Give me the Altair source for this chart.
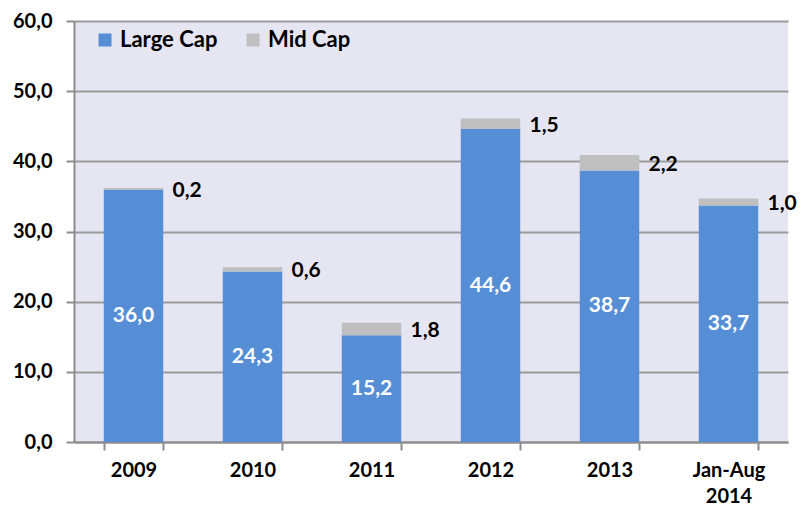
import altair as alt
import pandas as pd

years = ["2009", "2010", "2011", "2012", "2013", "Jan-Aug 2014"]
large_cap = [36.0, 24.3, 15.2, 44.6, 38.7, 33.7]
mid_cap = [0.2, 0.6, 1.8, 1.5, 2.2, 1.0]
series = ["Large Cap", "Mid Cap"]
colors = ["#558ED5", "#BFBFBF"]

rows = []
for y, l, m in zip(years, large_cap, mid_cap):
    rows.append({"year": y, "series": "Large Cap", "value": l, "large": l, "mid": m})
    rows.append({"year": y, "series": "Mid Cap", "value": m, "large": l, "mid": m})
df = pd.DataFrame(rows)

FONT = "Lato"
W = "bold"

x = alt.X(
    "year:N",
    sort=years,
    title=None,
    scale=alt.Scale(paddingInner=0.5, paddingOuter=0.25),
    axis=alt.Axis(
        labelAngle=0,
        labelFont=FONT,
        labelFontSize=20,
        labelFontWeight=W,
        labelColor="black",
        labelPadding=10,
        labelLineHeight=26,
        labelExpr="datum.label == 'Jan-Aug 2014' ? ['Jan-Aug', '2014'] : datum.label",
        tickBand="extent",
        tickSize=8,
        tickColor="#8C8C8C",
        tickWidth=2,
        domainColor="#8C8C8C",
        domainWidth=2,
        grid=False,
    ),
)

bars = alt.Chart(df).mark_bar().encode(
    x=x,
    y=alt.Y(
        "value:Q",
        stack="zero",
        title=None,
        scale=alt.Scale(domain=[0, 60], nice=False),
        axis=alt.Axis(
            values=[0, 10, 20, 30, 40, 50, 60],
            labelExpr="replace(format(datum.value, '.1f'), '.', ',')",
            labelFont=FONT,
            labelFontSize=20,
            labelFontWeight=W,
            labelColor="black",
            labelPadding=14,
            tickSize=8,
            tickColor="#8C8C8C",
            tickWidth=2,
            domainColor="#8C8C8C",
            domainWidth=2,
            gridColor="#9A9A9A",
            gridWidth=2,
        ),
    ),
    color=alt.Color(
        "series:N",
        scale=alt.Scale(domain=series, range=colors),
        legend=alt.Legend(
            title=None,
            orient="none",
            legendX=20,
            legendY=8,
            direction="horizontal",
            symbolType="square",
            symbolSize=170,
            symbolStrokeWidth=0,
            labelFont=FONT,
            labelFontSize=22,
            labelFontWeight=W,
            labelColor="black",
            columnPadding=24,
            labelOffset=4,
        ),
    ),
    order=alt.Order("series:N", sort="ascending"),
)

large_text = alt.Chart(pd.DataFrame({"year": years, "large": large_cap})).transform_calculate(
    pos="datum.large / 2",
    lbl="replace(format(datum.large, '.1f'), '.', ',')",
).mark_text(font=FONT, fontSize=21, fontWeight=W, color="white").encode(
    x=alt.X("year:N", sort=years),
    y=alt.Y("pos:Q"),
    text="lbl:N",
)

mid_text = alt.Chart(pd.DataFrame({"year": years, "large": large_cap, "mid": mid_cap})).transform_calculate(
    pos="datum.large + datum.mid / 2",
    lbl="replace(format(datum.mid, '.1f'), '.', ',')",
).mark_text(
    font=FONT, fontSize=21, fontWeight=W, color="black", align="left", dx=39, dy=2
).encode(
    x=alt.X("year:N", sort=years),
    y=alt.Y("pos:Q"),
    text="lbl:N",
)

chart = (
    alt.layer(bars, large_text, mid_text)
    .properties(
        width=714,
        height=421,
        autosize=alt.AutoSizeParams(type="none"),
        padding={"left": 66, "top": 13, "right": 12, "bottom": 64},
        background="white",
    )
    .configure_view(fill="#E6E6F2", stroke=None)
)

chart.save("out.html", embed_options={"renderer": "svg", "actions": False})
